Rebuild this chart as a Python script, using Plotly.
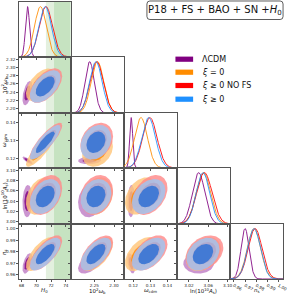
import numpy as np
import plotly.graph_objects as go

W, H = 291, 294

# ---------------- data ----------------
param_labels = ["<i>H</i><sub>0</sub>", "10<sup>2</sup><i>ω</i><sub>b</sub>", "<i>ω</i><sub>cdm</sub>",
                "ln(10<sup>10</sup><i>A</i><sub>s</sub>)", "<i>n</i><sub>s</sub>"]
param_ranges = [[67.6, 74.67], [2.19, 2.325], [0.1145, 0.1455], [2.995, 3.105], [0.9565, 1.004]]
x_tickvals = [[68, 70, 72, 74], [2.25, 2.30], [0.12, 0.13, 0.14], [3.02, 3.06, 3.10],
              [0.96, 0.97, 0.98, 0.99, 1.00]]
x_ticktext = [["68", "70", "72", "74"], ["2.25", "2.30"], ["0.12", "0.13", "0.14"],
              ["3.02", "3.06", "3.10"], ["0.96", "0.97", "0.98", "0.99", "1.00"]]
y_tickvals = [[], [2.20, 2.22, 2.24, 2.26, 2.28, 2.30, 2.32], [0.12, 0.13, 0.14],
              [3.00, 3.02, 3.04, 3.06, 3.08, 3.10], [0.96, 0.97, 0.98, 0.99, 1.00]]
y_ticktext = [[], ["2.20", "2.22", "2.24", "2.26", "2.28", "2.30", "2.32"], ["0.12", "0.13", "0.14"],
              ["3.00", "3.02", "3.04", "3.06", "3.08", "3.10"], ["0.96", "0.97", "0.98", "0.99", "1.00"]]

model_names = ["ΛCDM", "<i>ξ</i> = 0", "<i>ξ</i> ≥ 0 NO FS", "<i>ξ</i> ≥ 0"]
line_colors = ["#800080", "#ff8c00", "#ff0000", "#1e90ff"]
outer_fill = ["#c07ec6", "#ffc67a", "#ff8a8a", "#9fc5f0"]
inner_fill = ["#800080", "#ff8c00", "#ff2020", "#2b6fd6"]

# means: H0, 100 omega_b, omega_cdm, ln(10^10 A_s), n_s
means_lcdm = [68.8, 2.238, 0.1188, 3.040, 0.970]
means_xi0 = [70.55, 2.258, 0.1245, 3.050, 0.978]
means_nofs = [71.3, 2.256, 0.1297, 3.052, 0.979]
means_xipos = [71.2, 2.254, 0.1290, 3.049, 0.978]

sigmas_lcdm = [0.28, 0.012, 0.0009, 0.013, 0.0036]
sigmas_xi0 = [0.80, 0.016, 0.0038, 0.015, 0.0060]
sigmas_nofs = [0.90, 0.017, 0.0042, 0.016, 0.0062]
sigmas_xipos = [0.85, 0.016, 0.0040, 0.014, 0.0058]

corr_lcdm = [[1.0, 0.5, -0.8, 0.1, 0.5],
             [0.5, 1.0, 0.1, 0.1, 0.5],
             [-0.8, 0.1, 1.0, 0.1, -0.4],
             [0.1, 0.1, 0.1, 1.0, 0.0],
             [0.5, 0.5, -0.4, 0.0, 1.0]]
corr_xi = [[1.0, 0.55, 0.85, 0.35, 0.7],
           [0.55, 1.0, 0.25, 0.2, 0.6],
           [0.85, 0.25, 1.0, 0.35, 0.5],
           [0.35, 0.2, 0.35, 1.0, 0.3],
           [0.7, 0.6, 0.5, 0.3, 1.0]]

model_means = [means_lcdm, means_xi0, means_nofs, means_xipos]
model_sigmas = [sigmas_lcdm, sigmas_xi0, sigmas_nofs, sigmas_xipos]
model_corrs = [corr_lcdm, corr_xi, corr_xi, corr_xi]

h0_band_2sig = [71.3, 72.4]
h0_band_1sig = [72.4, 74.67]

# ---------------- layout geometry ----------------
col_edges = [19, 72, 126, 180, 234, 288]
row_edges = [2, 57, 113, 168, 224, 279]
R68, R95 = np.sqrt(-2 * np.log(1 - 0.68)), np.sqrt(-2 * np.log(1 - 0.95))
AXC = "#555555"
FONT = "DejaVu Sans"


def ellipse(mx, my, sx, sy, rho, r, n=120):
    t = np.linspace(0, 2 * np.pi, n)
    a, b = r * np.cos(t), r * np.sin(t)
    return mx + sx * a, my + sy * (rho * a + np.sqrt(1 - rho ** 2) * b)


fig = go.Figure()
layout = dict(width=W, height=H, margin=dict(l=0, r=0, t=0, b=0),
              paper_bgcolor="white", plot_bgcolor="white", showlegend=False)
shapes = []
annotations = []

k = 0
for r in range(5):
    for c in range(r + 1):
        k += 1
        xs = "" if k == 1 else str(k)
        xa = dict(domain=[col_edges[c] / W, col_edges[c + 1] / W], range=param_ranges[c],
                  anchor="y" + xs, showline=True, mirror=True, linecolor=AXC, linewidth=1,
                  ticks="outside", ticklen=1.5, tickwidth=0.7, tickcolor=AXC,
                  tickvals=x_tickvals[c], ticktext=x_ticktext[c], showticklabels=(r == 4),
                  tickfont=dict(size=4.2, family=FONT, color="#222"), showgrid=False,
                  zeroline=False, fixedrange=True)
        if r == c:
            ya = dict(domain=[1 - row_edges[r + 1] / H, 1 - row_edges[r] / H], range=[0, 1.09],
                      anchor="x" + xs, showline=True, mirror=True, linecolor=AXC, linewidth=1,
                      ticks="", showticklabels=False, showgrid=False, zeroline=False, fixedrange=True)
        else:
            ya = dict(domain=[1 - row_edges[r + 1] / H, 1 - row_edges[r] / H], range=param_ranges[r],
                      anchor="x" + xs, showline=True, mirror=True, linecolor=AXC, linewidth=1,
                      ticks="outside", ticklen=1.5, tickwidth=0.7, tickcolor=AXC,
                      tickvals=y_tickvals[r], ticktext=y_ticktext[r], showticklabels=(c == 0),
                      tickfont=dict(size=4.2, family=FONT, color="#222"), showgrid=False,
                      zeroline=False, fixedrange=True)
        layout["xaxis" + xs] = xa
        layout["yaxis" + xs] = ya

        # H0 bands
        if c == 0:
            for band, col in [(h0_band_2sig, "#e3f0df"), (h0_band_1sig, "#c6e3c1")]:
                shapes.append(dict(type="rect", xref="x" + xs, yref="y" + xs + " domain",
                                   x0=band[0], x1=band[1], y0=0, y1=1, fillcolor=col,
                                   line=dict(width=0), layer="below"))

        if r == c:
            lo, hi = param_ranges[c]
            xg = np.linspace(lo, hi, 300)
            for m in range(4):
                mu, s = model_means[m][c], model_sigmas[m][c]
                fig.add_trace(go.Scatter(x=xg, y=np.exp(-0.5 * ((xg - mu) / s) ** 2), mode="lines",
                                         line=dict(color=line_colors[m], width=1), opacity=0.85,
                                         xaxis="x" + xs, yaxis="y" + xs, hoverinfo="skip"))
        else:
            for m in range(4):
                mx, my = model_means[m][c], model_means[m][r]
                sx, sy = model_sigmas[m][c], model_sigmas[m][r]
                rho = model_corrs[m][r][c]
                for rad, fc in [(R95, outer_fill[m]), (R68, inner_fill[m])]:
                    ex, ey = ellipse(mx, my, sx, sy, rho, rad)
                    fig.add_trace(go.Scatter(x=ex, y=ey, mode="lines", fill="toself", fillcolor=fc,
                                             line=dict(width=0, color=fc), opacity=0.82,
                                             xaxis="x" + xs, yaxis="y" + xs, hoverinfo="skip"))

# axis titles
for c in range(5):
    annotations.append(dict(x=(col_edges[c] + col_edges[c + 1]) / 2 / W, y=1 - 290.5 / H,
                            xref="paper", yref="paper", text=param_labels[c], showarrow=False,
                            font=dict(size=5.5, family=FONT, color="#111"), xanchor="center", yanchor="middle"))
for r in range(1, 5):
    annotations.append(dict(x=4.5 / W, y=1 - (row_edges[r] + row_edges[r + 1]) / 2 / H,
                            xref="paper", yref="paper", text=param_labels[r], showarrow=False, textangle=-90,
                            font=dict(size=5.5, family=FONT, color="#111"), xanchor="center", yanchor="middle"))

# legend
leg_y = [59.2, 72.2, 85.5, 99.2]
for m in range(4):
    shapes.append(dict(type="rect", xref="paper", yref="paper", x0=178.5 / W, x1=196.5 / W,
                       y0=1 - (leg_y[m] + 2.6) / H, y1=1 - (leg_y[m] - 2.6) / H,
                       fillcolor=line_colors[m], line=dict(width=0)))
    annotations.append(dict(x=203 / W, y=1 - leg_y[m] / H, xref="paper", yref="paper",
                            text=model_names[m], showarrow=False, xanchor="left", yanchor="middle",
                            font=dict(size=8, family=FONT, color="#111")))

# title box (rounded)
bx0, bx1, by0, by1, rr = 149.5, 288, 1, 19.5, 3
def P(x, y):
    return f"{x / W:.5f},{1 - y / H:.5f}"
path = (f"M {P(bx0 + rr, by0)} L {P(bx1 - rr, by0)} Q {P(bx1, by0)} {P(bx1, by0 + rr)} "
        f"L {P(bx1, by1 - rr)} Q {P(bx1, by1)} {P(bx1 - rr, by1)} L {P(bx0 + rr, by1)} "
        f"Q {P(bx0, by1)} {P(bx0, by1 - rr)} L {P(bx0, by0 + rr)} Q {P(bx0, by0)} {P(bx0 + rr, by0)} Z")
shapes.append(dict(type="path", xref="paper", yref="paper", path=path,
                   line=dict(color="#333", width=0.8), fillcolor="white"))
annotations.append(dict(x=(bx0 + bx1) / 2 / W, y=1 - (by0 + by1) / 2 / H, xref="paper", yref="paper",
                        text="P18 + FS + BAO + SN +<i>H</i><sub>0</sub>", showarrow=False,
                        xanchor="center", yanchor="middle", font=dict(size=10, family=FONT, color="#111")))

layout["shapes"] = shapes
layout["annotations"] = annotations
fig.update_layout(**layout)
fig.write_html("out.html", config={"displayModeBar": False},
               post_script="document.body.style.margin='0';document.body.style.padding='0';")
